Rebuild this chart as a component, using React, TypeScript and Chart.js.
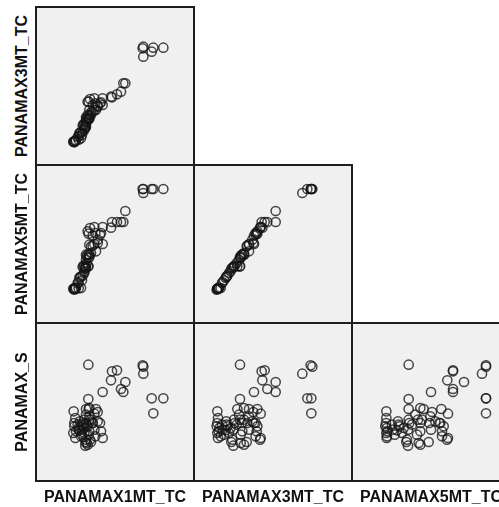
import React, { useEffect, useRef } from "react";
import { Chart, registerables } from "chart.js";

Chart.register(...registerables);

// Variable names (matrix order)
const variableNames = ["PANAMAX1MT_TC", "PANAMAX3MT_TC", "PANAMAX5MT_TC", "PANAMAX_S"];

const panamax1mt = [
  15.7, 22.8, 24.3, 22.5, 26.8, 25.5, 26.2, 20.0, 32.0, 32.2, 32.2, 34.7, 38.2, 35.2, 15.7,
  11.3, 11.8, 11.5, 12.8, 11.2, 13.5, 12.5, 12.8, 13.2, 13.5, 13.0, 13.8, 14.5, 15.0, 16.0,
  18.0, 18.5, 15.8, 17.5, 14.5, 14.2, 14.0, 15.0, 14.8, 16.0, 15.0, 16.0, 15.2, 15.5, 17.0,
  17.5, 16.5, 18.5, 19.2, 15.5, 19.5, 20.0, 16.2, 17.0,
  11.5, 12.0, 11.8, 14.0, 14.5, 15.2, 15.8, 16.5, 14.8, 16.0, 17.8, 15.0,
];
const panamax3mt = [
  13.8, 20.3, 21.2, 20.5, 24.5, 22.0, 24.5, 18.0, 35.0, 35.5, 32.5, 34.0, 35.2, 35.2, 13.8,
  7.0, 7.2, 7.0, 7.6, 7.0, 8.0, 8.4, 8.6, 9.7, 9.8, 9.5, 9.0, 10.5, 13.0, 15.0,
  16.5, 17.8, 19.0, 20.0, 12.0, 12.2, 11.8, 11.5, 11.2, 13.8, 14.3, 14.5, 14.0, 15.0, 16.0,
  16.5, 15.8, 17.5, 18.5, 19.0, 18.8, 20.0, 19.8, 18.0,
  6.8, 7.4, 7.2, 10.0, 11.0, 12.8, 14.0, 15.0, 11.8, 16.5, 18.5, 13.5,
];
const panamax5mt = [
  17.0, 30.3, 30.3, 28.6, 33.6, 30.3, 30.3, 23.7, 40.2, 40.2, 39.0, 40.2, 40.2, 40.2, 17.0,
  10.3, 10.3, 10.2, 10.4, 10.3, 10.5, 12.0, 12.2, 13.8, 14.0, 13.5, 12.8, 15.0, 17.0, 20.5,
  21.5, 24.0, 26.8, 28.8, 17.0, 17.2, 16.8, 16.5, 16.3, 19.8, 20.5, 20.5, 20.0, 20.5, 23.2,
  23.7, 23.0, 25.0, 26.5, 27.5, 27.0, 28.8, 28.5, 26.2,
  10.0, 10.6, 10.4, 14.2, 15.5, 18.0, 19.5, 21.0, 16.8, 23.5, 27.0, 19.0,
];
const panamaxS = [
  34.9, 32.9, 33.2, 30.2, 29.7, 27.6, 26.7, 26.7, 34.7, 34.3, 32.2, 24.8, 24.8, 20.3, 24.6,
  20.9, 18.9, 17.4, 15.9, 14.4, 13.4, 16.9, 15.4, 17.9, 16.9, 15.2, 13.9, 14.4, 21.6, 21.9,
  21.6, 20.7, 21.6, 20.2, 18.4, 17.4, 15.4, 12.4, 11.7, 18.4, 17.4, 14.9, 11.4, 10.9, 17.4,
  15.4, 11.7, 17.9, 17.4, 16.4, 14.9, 12.9, 12.4, 17.4,
  16.4, 14.9, 12.9, 16.4, 15.9, 16.9, 13.9, 18.4, 10.6, 19.4, 13.4, 19.9,
];
const axisMin = 0;
const axisMax = 47.4;

const series = [panamax1mt, panamax3mt, panamax5mt, panamaxS];

// Lower-triangle panels: [x variable, y variable, column, row]
const panelDefs = [
  [0, 1, 0, 0],
  [0, 2, 0, 1],
  [1, 2, 1, 1],
  [0, 3, 0, 2],
  [1, 3, 1, 2],
  [2, 3, 2, 2],
];

const GRID_LEFT = 36;
const GRID_TOP = 7;
const CELL = 158;
const FONT = '"Liberation Sans", Arial, Helvetica, sans-serif';

const panelFrame = {
  id: "panelFrame",
  beforeDatasetsDraw(chart: any) {
    const { ctx, chartArea } = chart;
    ctx.save();
    ctx.fillStyle = "#f0f0f0";
    ctx.fillRect(chartArea.left, chartArea.top, chartArea.right - chartArea.left, chartArea.bottom - chartArea.top);
    ctx.restore();
  },
  afterDraw(chart: any) {
    const { ctx, chartArea } = chart;
    ctx.save();
    ctx.strokeStyle = "#1e1e1e";
    ctx.lineWidth = 2;
    ctx.strokeRect(chartArea.left, chartArea.top, chartArea.right - chartArea.left, chartArea.bottom - chartArea.top);
    ctx.restore();
  },
};

function Panel({ xv, yv, col, row }: { xv: number; yv: number; col: number; row: number }) {
  const ref = useRef<HTMLCanvasElement | null>(null);
  useEffect(() => {
    if (!ref.current) return;
    const xs = series[xv];
    const ys = series[yv];
    const pts = xs.map((x, i) => ({ x, y: ys[i] }));
    const chart = new Chart(ref.current, {
      type: "scatter",
      data: {
        datasets: [
          {
            data: pts,
            pointStyle: "circle",
            pointRadius: 4.6,
            pointBorderWidth: 1.5,
            borderColor: "rgba(20,20,20,0.78)",
            backgroundColor: "rgba(0,0,0,0)",
            pointBackgroundColor: "rgba(0,0,0,0)",
            pointBorderColor: "rgba(20,20,20,0.78)",
          },
        ],
      },
      options: {
        responsive: false,
        animation: false,
        events: [],
        layout: { padding: 1, autoPadding: false },
        plugins: { legend: { display: false }, tooltip: { enabled: false } },
        scales: {
          x: { type: "linear", display: false, min: axisMin, max: axisMax },
          y: { type: "linear", display: false, min: axisMin, max: axisMax },
        },
      },
      plugins: [panelFrame],
    });
    return () => chart.destroy();
  }, [xv, yv]);
  return (
    <canvas
      ref={ref}
      width={CELL + 2}
      height={CELL + 2}
      style={{
        position: "absolute",
        left: GRID_LEFT + col * CELL - 1,
        top: GRID_TOP + row * CELL - 1,
        width: CELL + 2,
        height: CELL + 2,
      }}
    />
  );
}

export default function App() {
  return (
    <div
      style={{
        position: "absolute",
        left: 0,
        top: 0,
        width: 499,
        height: 507,
        overflow: "hidden",
        background: "#ffffff",
      }}
    >
      {panelDefs.map(([xv, yv, col, row]) => (
        <Panel key={`${xv}-${yv}`} xv={xv} yv={yv} col={col} row={row} />
      ))}
      {[0, 1, 2].map((c) => (
        <div
          key={`xl${c}`}
          style={{
            position: "absolute",
            left: GRID_LEFT + c * CELL + CELL / 2 - 100,
            top: 489,
            width: 200,
            height: 16,
            lineHeight: "16px",
            textAlign: "center",
            fontFamily: FONT,
            fontWeight: "bold",
            fontSize: 16,
            color: "#111",
            whiteSpace: "nowrap",
          }}
        >
          {variableNames[c]}
        </div>
      ))}
      {[1, 2, 3].map((v, r) => (
        <div
          key={`yl${v}`}
          style={{
            position: "absolute",
            left: 21.7 - 100,
            top: GRID_TOP + r * CELL + CELL / 2 - 8,
            width: 200,
            height: 16,
            lineHeight: "16px",
            textAlign: "center",
            fontFamily: FONT,
            fontWeight: "bold",
            fontSize: 16,
            color: "#111",
            whiteSpace: "nowrap",
            transform: "rotate(-90deg)",
            transformOrigin: "50% 50%",
          }}
        >
          {variableNames[v]}
        </div>
      ))}
    </div>
  );
}
